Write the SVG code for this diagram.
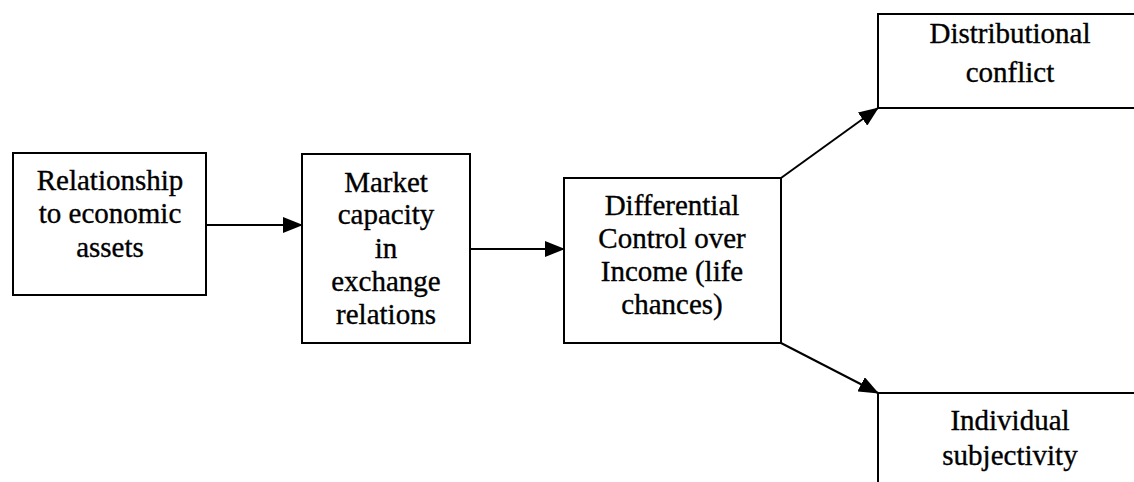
<svg xmlns="http://www.w3.org/2000/svg" width="1134" height="482" viewBox="0 0 1134 482">
  <style>
    .box { fill: #ffffff; stroke: #000000; stroke-width: 2; }
    .lbl { font-family: "Liberation Serif", "Times New Roman", serif; font-size: 29px; fill: #000000; stroke: #000000; stroke-width: 0.35; text-anchor: middle; }
    .edge { stroke: #000000; stroke-width: 2; fill: none; marker-end: url(#head); }
  </style>
  <defs>
    <marker id="head" viewBox="0 0 20 16" refX="19" refY="8" markerWidth="20" markerHeight="16" markerUnits="userSpaceOnUse" orient="auto">
      <path d="M0,0 L20,8 L0,16 Z" fill="#000000"/>
    </marker>
  </defs>
  <rect width="1134" height="482" fill="#ffffff"/>

  <g id="connectors">
    <line class="edge" x1="206" y1="225" x2="302" y2="225"/>
    <line class="edge" x1="470" y1="249" x2="564" y2="249"/>
    <line class="edge" x1="781" y1="178" x2="878" y2="108"/>
    <line class="edge" x1="781" y1="343" x2="878" y2="393"/>
  </g>

  <g id="relationship">
    <rect class="box" x="13" y="153" width="193" height="142"/>
    <text class="lbl" x="110" y="190">Relationship</text>
    <text class="lbl" x="110" y="223">to economic</text>
    <text class="lbl" x="110" y="257">assets</text>
  </g>

  <g id="market">
    <rect class="box" x="302" y="154" width="168" height="189"/>
    <text class="lbl" x="386" y="192">Market</text>
    <text class="lbl" x="386" y="224">capacity</text>
    <text class="lbl" x="386" y="258">in</text>
    <text class="lbl" x="386" y="291">exchange</text>
    <text class="lbl" x="386" y="324">relations</text>
  </g>

  <g id="differential">
    <rect class="box" x="564" y="178" width="217" height="165"/>
    <text class="lbl" x="672" y="215">Differential</text>
    <text class="lbl" x="672" y="248">Control over</text>
    <text class="lbl" x="672" y="281">Income (life</text>
    <text class="lbl" x="672" y="314">chances)</text>
  </g>

  <g id="conflict">
    <rect class="box" x="878" y="14" width="270" height="94"/>
    <text class="lbl" x="1010" y="43">Distributional</text>
    <text class="lbl" x="1010" y="82">conflict</text>
  </g>

  <g id="subjectivity">
    <rect class="box" x="878" y="393" width="270" height="100"/>
    <text class="lbl" x="1010" y="430">Individual</text>
    <text class="lbl" x="1010" y="465">subjectivity</text>
  </g>
</svg>
